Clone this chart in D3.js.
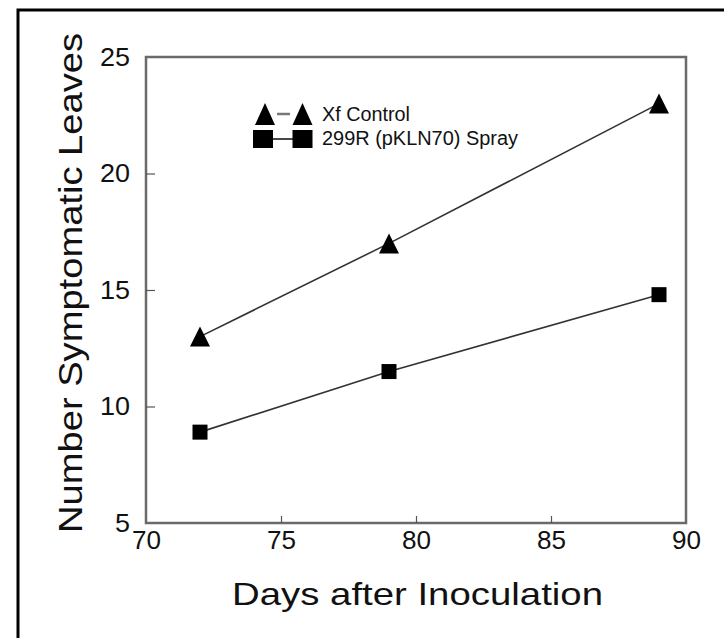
<!DOCTYPE html>
<html>
<head>
<meta charset="utf-8">
<script src="https://cdn.jsdelivr.net/npm/d3@7"></script>
<style>
  html, body { margin: 0; padding: 0; background: #fff; }
  svg { display: block; }
  text { font-family: "Liberation Sans", Arial, sans-serif; fill: #111; }
</style>
</head>
<body>
<svg id="chart" width="724" height="638"></svg>
<script>
// ---- data ----
const days = [72, 79, 89];
const xfControl = [13, 17, 23];
const sprayed = [8.9, 11.5, 14.8];
const xTicks = [70, 75, 80, 85, 90];
const yTicks = [5, 10, 15, 20, 25];
const seriesNames = ["Xf Control", "299R (pKLN70) Spray"];
const xTitle = "Days after Inoculation";
const yTitle = "Number Symptomatic Leaves";

const svg = d3.select("#chart");

// outer frame (only top/left visible)
svg.append("rect").attr("x", 18).attr("y", 10).attr("width", 740).attr("height", 660)
  .attr("fill", "none").attr("stroke", "#000").attr("stroke-width", 3);

const x = d3.scaleLinear().domain([70, 90]).range([146, 686]);
const y = d3.scaleLinear().domain([5, 25]).range([523, 57]);

// plot frame
svg.append("rect").attr("x", x(70)).attr("y", y(25))
  .attr("width", x(90) - x(70)).attr("height", y(5) - y(25))
  .attr("fill", "none").attr("stroke", "#6a6a6a").attr("stroke-width", 2.5);

// axes with inward ticks
const xAxis = svg.append("g").attr("transform", `translate(0,${y(5)})`)
  .call(d3.axisBottom(x).tickValues(xTicks).tickSize(-7).tickPadding(8).tickFormat(d3.format("d")));
const yAxis = svg.append("g").attr("transform", `translate(${x(70)},0)`)
  .call(d3.axisLeft(y).tickValues(yTicks).tickSize(-9).tickPadding(16).tickFormat(d3.format("d")));
[xAxis, yAxis].forEach(g => {
  g.select(".domain").remove();
  g.selectAll(".tick line").attr("stroke", "#555").attr("stroke-width", 1.2);
  g.selectAll(".tick text").attr("font-size", 25).attr("fill", "#111")
    .attr("font-family", "Liberation Sans, Arial, sans-serif");
});
xAxis.selectAll(".tick text").attr("dy", "0.71em");
xAxis.selectAll(".tick").filter(d => d === 70 || d === 90).select("line").remove();
yAxis.selectAll(".tick").filter(d => d === 5 || d === 25).select("line").remove();
yAxis.selectAll(".tick text").attr("textLength", function(d){ return String(d).length * 15; })
  .attr("lengthAdjust", "spacingAndGlyphs");
xAxis.selectAll(".tick text").attr("textLength", function(d){ return String(d).length * 14.5; })
  .attr("lengthAdjust", "spacingAndGlyphs");

// lines
const line = d3.line().x((d, i) => x(days[i])).y(d => y(d));
[xfControl, sprayed].forEach(s => {
  svg.append("path").datum(s).attr("d", line)
    .attr("fill", "none").attr("stroke", "#333").attr("stroke-width", 1.6);
});

// markers
const tri = (w, h) => `M0,${-h/2} L${w/2},${h/2} L${-w/2},${h/2} Z`;
svg.selectAll(".tri").data(xfControl).enter().append("path")
  .attr("d", tri(20, 20))
  .attr("transform", (d, i) => `translate(${x(days[i])},${y(d)})`)
  .attr("fill", "#000");
svg.selectAll(".sq").data(sprayed).enter().append("rect")
  .attr("x", (d, i) => x(days[i]) - 7.5).attr("y", d => y(d) - 7.5)
  .attr("width", 15).attr("height", 15).attr("fill", "#000");

// legend
const lg = svg.append("g");
lg.append("line").attr("x1", 277).attr("x2", 290).attr("y1", 114).attr("y2", 114)
  .attr("stroke", "#777").attr("stroke-width", 2.5);
[265, 302.5].forEach(cx => lg.append("path").attr("d", tri(20, 22))
  .attr("transform", `translate(${cx},114)`).attr("fill", "#000"));
lg.append("line").attr("x1", 273).attr("x2", 293).attr("y1", 139).attr("y2", 139)
  .attr("stroke", "#333").attr("stroke-width", 1.8);
[263, 302.5].forEach(cx => lg.append("rect").attr("x", cx - 10).attr("y", 130)
  .attr("width", 20).attr("height", 18).attr("fill", "#000"));
lg.append("text").attr("x", 322).attr("y", 121).attr("font-size", 20)
  .attr("textLength", 88).attr("lengthAdjust", "spacingAndGlyphs").attr("fill", "#222").text(seriesNames[0]);
lg.append("text").attr("x", 322).attr("y", 145).attr("font-size", 20)
  .attr("textLength", 196).attr("lengthAdjust", "spacingAndGlyphs").attr("fill", "#222").text(seriesNames[1]);

// axis titles
svg.append("text").attr("x", 232).attr("y", 605).attr("font-size", 32)
  .attr("textLength", 371).attr("lengthAdjust", "spacingAndGlyphs").text(xTitle);
svg.append("text").attr("transform", "translate(82,283) rotate(-90)")
  .attr("text-anchor", "middle").attr("font-size", 33)
  .attr("textLength", 500).attr("lengthAdjust", "spacingAndGlyphs").text(yTitle);
</script>
</body>
</html>
